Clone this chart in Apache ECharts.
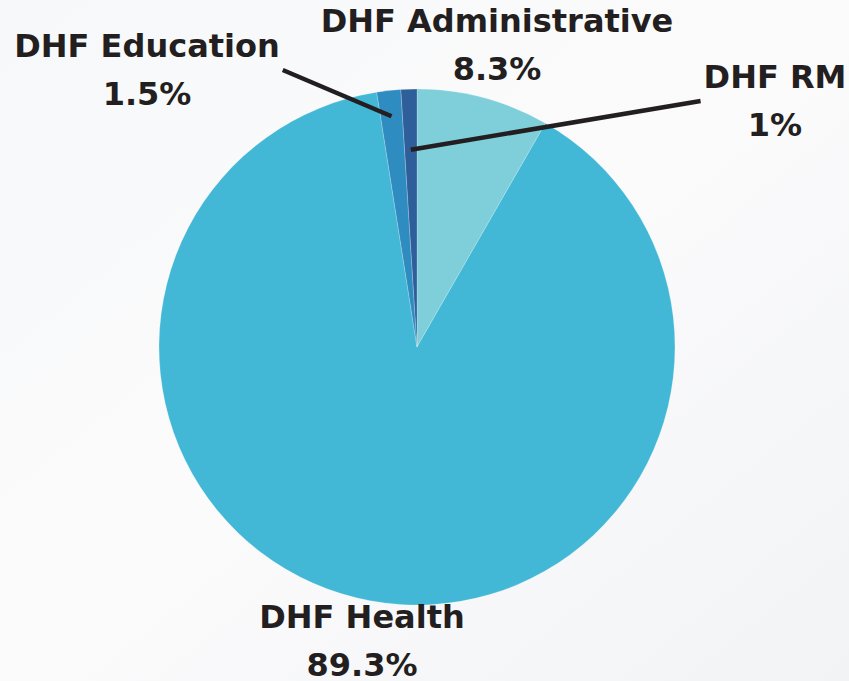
<!DOCTYPE html>
<html>
<head>
<meta charset="utf-8">
<style>
  html, body { margin: 0; padding: 0; }
  #main { width: 849px; height: 681px; }
</style>
<script src="https://cdn.jsdelivr.net/npm/echarts@6/dist/echarts.min.js"></script>
</head>
<body>
<div id="main"></div>
<script>
// data, clockwise from 12 o'clock
const names = ['DHF Administrative', 'DHF Health', 'DHF Education', 'DHF RM']
const shares = [8.3, 89.3, 1.5, 1]
const colors = ['#7fcfdb', '#43b8d6', '#2f8cc0', '#2e5f9a']

// where each label block sits (center x, center y)
const labelPos = [[497, 45], [362, 641], [147, 70], [775, 101]]
const withLine = [false, false, true, true]
const lineDepth = [0, 0, 0.9, 0.765] // how far into the slice the leader goes

const font = { family: 'DejaVu Sans', weight: 'bold', size: 32 }
const ink = '#231f20'

const chart = echarts.init(document.getElementById('main'), null, { renderer: 'svg' })

chart.setOption({
  backgroundColor: {
    type: 'linear', x: 0, y: 0, x2: 1, y2: 1,
    colorStops: [
      { offset: 0, color: '#f7f8f9' },
      { offset: 0.5, color: '#fbfbfc' },
      { offset: 1, color: '#f2f3f5' }
    ]
  },
  series: [{
    type: 'pie',
    center: [417, 347],
    radius: 258,
    startAngle: 90,
    clockwise: true,
    avoidLabelOverlap: false,
    animation: false,
    itemStyle: { borderColor: 'rgba(255,255,255,0.35)', borderWidth: 0.6 },
    label: {
      show: true,
      position: 'outside',
      formatter: (p) => `${p.name}\n${p.value}%`,
      color: ink,
      fontFamily: font.family,
      fontWeight: font.weight,
      fontSize: font.size,
      lineHeight: 48,
      align: 'center'
    },
    labelLine: { show: false },
    labelLayout: (params) => {
      const [x, y] = labelPos[params.dataIndex]
      return { x, y, align: 'center', verticalAlign: 'middle' }
    },
    data: names.map((name, i) => ({
      name,
      value: shares[i],
      itemStyle: { color: colors[i] }
    }))
  }]
})

// leader lines: from inside the slice (echarts' own sector layout) to the side of the label
const ctx = document.createElement('canvas').getContext('2d')
ctx.font = `${font.weight} ${font.size}px "${font.family}"`
const pieData = chart.getModel().getSeriesByIndex(0).getData()
const leaders = []
names.forEach((name, i) => {
  if (!withLine[i]) return
  const lay = pieData.getItemLayout(i)
  const mid = (lay.startAngle + lay.endAngle) / 2
  const r = lay.r * lineDepth[i]
  const start = [lay.cx + r * Math.cos(mid), lay.cy + r * Math.sin(mid)]
  const [x, y] = labelPos[i]
  const w = Math.max(ctx.measureText(name).width, ctx.measureText(shares[i] + '%').width)
  const end = x < lay.cx ? [x + w / 2 + 3, y] : [x - w / 2 - 3, y]
  leaders.push({
    type: 'line',
    z: 100,
    shape: { x1: start[0], y1: start[1], x2: end[0], y2: end[1] },
    style: { stroke: ink, lineWidth: 4.5 }
  })
})
chart.setOption({ graphic: leaders })
</script>
</body>
</html>
